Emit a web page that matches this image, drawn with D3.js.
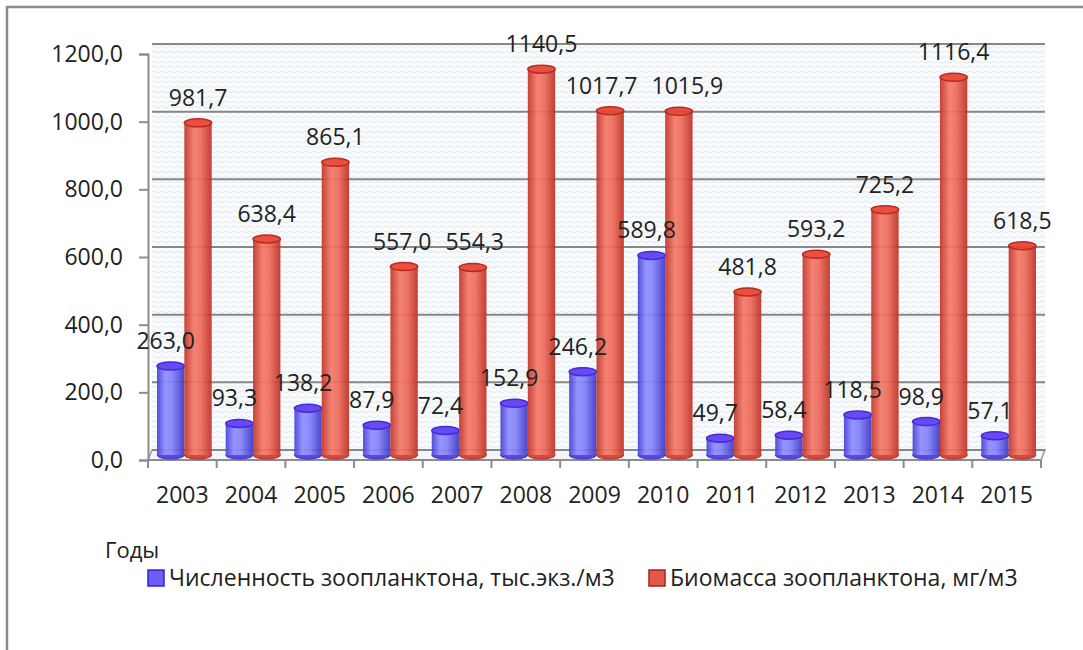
<!DOCTYPE html>
<html>
<head>
<meta charset="utf-8">
<script src="https://cdnjs.cloudflare.com/ajax/libs/d3/7.8.5/d3.min.js"></script>
<style>
  body { margin: 0; background: #fff; }
  svg { display: block; font-family: "Open Sans", sans-serif; }
</style>
</head>
<body>
<svg width="1083" height="650"></svg>
<script>
var years = ["2003", "2004", "2005", "2006", "2007", "2008", "2009", "2010", "2011", "2012", "2013", "2014", "2015"];
var abundance = [263.0, 93.3, 138.2, 87.9, 72.4, 152.9, 246.2, 589.8, 49.7, 58.4, 118.5, 98.9, 57.1];
var biomass = [981.7, 638.4, 865.1, 557.0, 554.3, 1140.5, 1017.7, 1015.9, 481.8, 593.2, 725.2, 1116.4, 618.5];
var yTicks = [0, 200, 400, 600, 800, 1000, 1200];
var seriesNames = ["Численность зоопланктона, тыс.экз./м3", "Биомасса зоопланктона, мг/м3"];
var axisTitle = "Годы";

document.addEventListener("DOMContentLoaded", function () {

  var svg = d3.select("svg");
  var xScale, yScale, sScale;
  // 3d depth: back wall is shifted up/right from the axis plane
  var depthX = 4, depthY = -10;
  var fmt = function (v) { return d3.format(".1f")(v).replace(".", ","); };

  init();

  function init() {
    xScale = d3.scaleBand().domain(years).range([148, 1041]);
    yScale = d3.scaleLinear().domain([0, 1200]).range([460, 54]);
    sScale = d3.scaleBand().domain([0, 1]).range([7, xScale.bandwidth() - 7]);

    drawFrame();
    drawWalls();
    drawAxes();
    drawBars();
    drawLegend();
  }

  function drawFrame() {
    svg.append("rect")
      .attr("x", 7).attr("y", 7)
      .attr("width", 1200).attr("height", 800)
      .style("fill", "none")
      .style("stroke", "#8c8c8c")
      .style("stroke-width", "2.5px");
  }

  function drawWalls() {
    var defs = svg.append("defs");
    var pat = defs.append("pattern")
      .attr("id", "weave")
      .attr("width", 8).attr("height", 5)
      .attr("patternUnits", "userSpaceOnUse");
    pat.append("rect").attr("width", 8).attr("height", 5).style("fill", "#f9fbfc");
    pat.append("path")
      .attr("d", "M0,2 Q2,0 4,2 T8,2")
      .style("fill", "none")
      .style("stroke", "#e2eaf1")
      .style("stroke-width", "1px");

    var x0 = xScale.range()[0], x1 = xScale.range()[1];

    // back wall
    svg.append("rect")
      .attr("x", x0 + depthX)
      .attr("y", yScale(1200) + depthY)
      .attr("width", x1 - x0)
      .attr("height", yScale(0) - yScale(1200))
      .style("fill", "url(#weave)");

    // floor
    svg.append("path")
      .attr("d", "M" + x0 + "," + yScale(0) +
        "L" + (x0 + depthX) + "," + (yScale(0) + depthY) +
        "L" + (x1 + depthX) + "," + (yScale(0) + depthY) +
        "L" + x1 + "," + yScale(0) + "Z")
      .style("fill", "#f3f6f9")
      .style("stroke", "#9a9a9a")
      .style("stroke-width", "1.5px");

    // gridlines on the back wall
    svg.append("g")
      .selectAll("line.grid")
      .data(yTicks).enter()
      .append("line")
      .attr("class", "grid")
      .attr("x1", x0 + depthX)
      .attr("x2", x1 + depthX)
      .attr("y1", function (d) { return yScale(d) + depthY; })
      .attr("y2", function (d) { return yScale(d) + depthY; })
      .style("stroke", "#878787")
      .style("stroke-width", "2px");
  }

  function drawAxes() {
    var yAxis = d3.axisLeft(yScale)
      .tickValues(yTicks)
      .tickSize(9)
      .tickPadding(16)
      .tickFormat(fmt);

    var yG = svg.append("g")
      .attr("transform", "translate(" + xScale.range()[0] + ",0)")
      .call(yAxis);
    yG.selectAll("path.domain").style("stroke", "#8c8c8c").style("stroke-width", "2px");
    yG.selectAll(".tick line").style("stroke", "#8c8c8c").style("stroke-width", "2px");
    yG.selectAll(".tick text")
      .style("font-family", "Open Sans")
      .style("font-size", "23px")
      .style("fill", "#222");

    // x axis ticks sit on category boundaries
    var xAxisG = svg.append("g")
      .attr("transform", "translate(0," + yScale(0) + ")");
    xAxisG.append("line")
      .attr("x1", xScale.range()[0]).attr("x2", xScale.range()[1])
      .style("stroke", "#8c8c8c").style("stroke-width", "2px");
    var bounds = years.map(function (y) { return xScale(y); }).concat([xScale.range()[1]]);
    xAxisG.selectAll("line.tick")
      .data(bounds).enter()
      .append("line")
      .attr("class", "tick")
      .attr("x1", function (d) { return d; })
      .attr("x2", function (d) { return d; })
      .attr("y1", 0).attr("y2", 8)
      .style("stroke", "#8c8c8c").style("stroke-width", "2px");
    xAxisG.selectAll("text")
      .data(years).enter()
      .append("text")
      .attr("x", function (d) { return xScale(d) + xScale.bandwidth() / 2; })
      .attr("y", 43)
      .attr("text-anchor", "middle")
      .style("font-size", "23px")
      .style("fill", "#222")
      .text(function (d) { return d; });

    svg.append("text")
      .attr("x", 105).attr("y", 558)
      .style("font-size", "22px")
      .style("fill", "#222")
      .text(axisTitle);
  }

  function makeGradient(id, stops) {
    var g = svg.select("defs").append("linearGradient")
      .attr("id", id)
      .attr("x1", "0%").attr("x2", "100%")
      .attr("y1", "0%").attr("y2", "0%");
    g.selectAll("stop").data(stops).enter()
      .append("stop")
      .attr("offset", function (d) { return d[0]; })
      .attr("stop-color", function (d) { return d[1]; });
  }

  function drawBars() {
    makeGradient("blueBody", [["0%", "#4542d4"], ["30%", "#8f8dff"], ["55%", "#8583fa"], ["100%", "#3d39c6"]]);
    makeGradient("redBody", [["0%", "#c2352b"], ["35%", "#f47a69"], ["60%", "#ee6c5b"], ["100%", "#bf3127"]]);

    var styles = [
      { body: "url(#blueBody)", top: "#5d3ef2", edge: "#3a1bd6", bottom: "#4a3fd8", labelDx: -5 },
      { body: "url(#redBody)", top: "#e8442f", edge: "#b41e12", bottom: "#d23c2c", labelDx: 0 }
    ];
    var series = [abundance, biomass];
    var w = sScale.bandwidth();
    var ry = 4;
    var midX = depthX / 2, midY = depthY / 2;

    var rows = [];
    series.forEach(function (vals, s) {
      vals.forEach(function (v, i) {
        rows.push({ s: s, year: years[i], value: v });
      });
    });

    svg.append("g")
      .selectAll("g.bar")
      .data(rows).enter()
      .append("g")
      .attr("class", "bar")
      .attr("transform", function (d) {
        return "translate(" + (xScale(d.year) + sScale(d.s) + w / 2 + midX) + ",0)";
      })
      .each(function (d) {
        var st = styles[d.s];
        var yb = yScale(0) + midY;
        var yt = yScale(d.value) + midY;
        var g = d3.select(this).style("opacity", 0.93);

        g.append("ellipse")
          .attr("cx", 0).attr("cy", yb)
          .attr("rx", w / 2).attr("ry", ry)
          .style("fill", st.bottom)
          .style("stroke", st.edge).style("stroke-width", "1px");

        g.append("rect")
          .attr("x", -w / 2).attr("y", yt)
          .attr("width", w).attr("height", yb - yt)
          .style("fill", st.body);

        g.append("ellipse")
          .attr("cx", 0).attr("cy", yt)
          .attr("rx", w / 2).attr("ry", ry)
          .style("fill", st.top)
          .style("stroke", st.edge).style("stroke-width", "1.5px");
      });

    var labels = svg.append("g")
      .selectAll("text.val")
      .data(rows).enter()
      .append("text")
      .attr("class", "val")
      .attr("x", function (d) { return xScale(d.year) + sScale(d.s) + w / 2 + midX + styles[d.s].labelDx; })
      .attr("y", function (d) { return yScale(d.value) + midY - 17; })
      .attr("text-anchor", "middle")
      .style("font-size", "23px")
      .style("fill", "#222")
      .text(function (d) { return fmt(d.value); });

    // push apart neighbouring labels of one series that sit on the same line and collide
    var nodes = labels.nodes();
    for (var k = 0; k < nodes.length - 1; k++) {
      var a = d3.select(nodes[k]), b = d3.select(nodes[k + 1]);
      if (a.datum().s !== b.datum().s) continue;
      if (Math.abs(+a.attr("y") - +b.attr("y")) > 20) continue;
      var wa = nodes[k].getComputedTextLength(), wb = nodes[k + 1].getComputedTextLength();
      var gap = (+b.attr("x") - wb / 2) - (+a.attr("x") + wa / 2);
      if (gap < 14) {
        var push = (14 - gap) / 2;
        a.attr("x", +a.attr("x") - push);
        b.attr("x", +b.attr("x") + push);
      }
    }
  }

  function drawLegend() {
    var items = [
      { x: 148, fill: "#6b5ef2", stroke: "#3a20d0", name: seriesNames[0] },
      { x: 649, fill: "#e05a4a", stroke: "#ad2216", name: seriesNames[1] }
    ];
    var lg = svg.append("g").selectAll("g").data(items).enter().append("g");
    lg.append("rect")
      .attr("x", function (d) { return d.x; })
      .attr("y", 570)
      .attr("width", 16).attr("height", 16)
      .style("fill", function (d) { return d.fill; })
      .style("stroke", function (d) { return d.stroke; })
      .style("stroke-width", "1.5px");
    lg.append("text")
      .attr("x", function (d) { return d.x + 21; })
      .attr("y", 586)
      .style("font-size", "23px")
      .style("fill", "#222")
      .text(function (d) { return d.name; });
  }

});
</script>
</body>
</html>
